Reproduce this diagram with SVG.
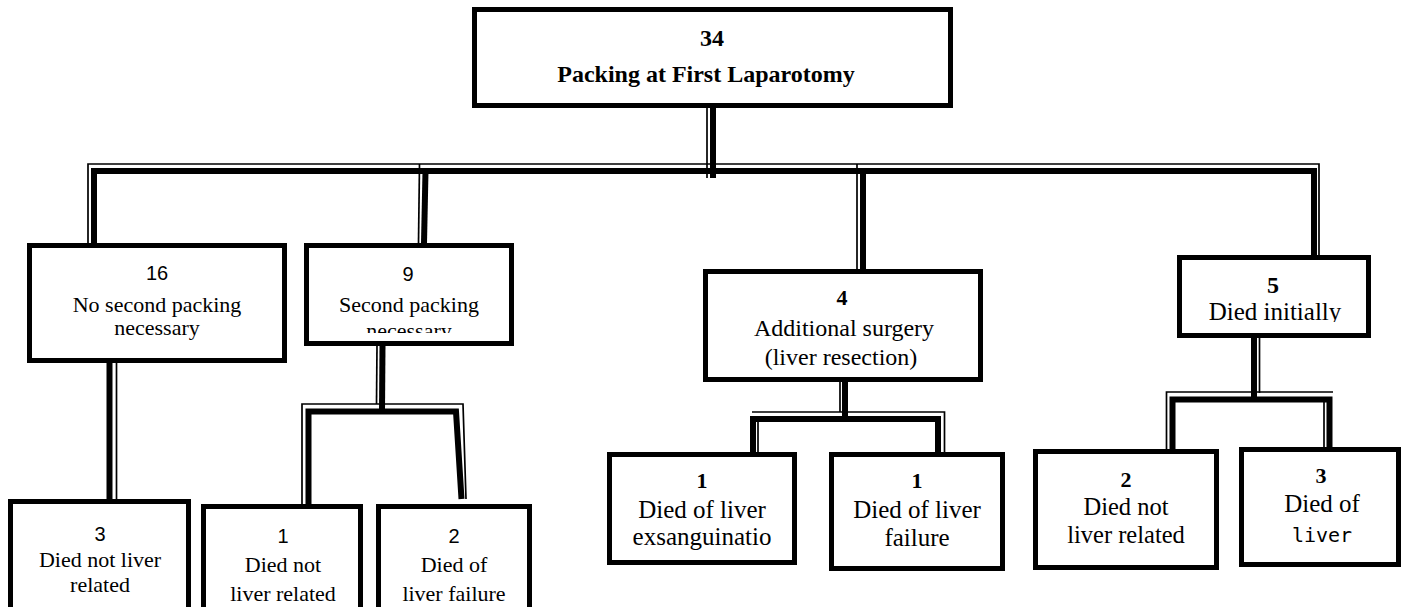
<svg xmlns="http://www.w3.org/2000/svg" width="1403" height="607" viewBox="0 0 1403 607">
<style>
  .box { fill: #fff; stroke: #000; stroke-width: 5; }
  .thin { fill: none; stroke: #000; stroke-width: 1.7; }
  .thick { fill: none; stroke: #000; stroke-width: 6; }
  text { fill: #000; text-anchor: middle; }
  .serif { font-family: 'Liberation Serif', 'Times New Roman', serif; }
  .b { font-weight: bold; }
  .sans { font-family: 'Liberation Sans', Arial, sans-serif; font-size: 20px; }
  .mono { font-family: 'DejaVu Sans Mono', monospace; font-size: 20px; }
</style>
<defs>
  <clipPath id="clip9"><rect x="300" y="240" width="220" height="93"/></clipPath>
  <clipPath id="clip5"><rect x="1170" y="250" width="210" height="72"/></clipPath>
</defs>
<rect width="1403" height="607" fill="#fff"/>

<g id="connectors">
  <line class="thin" x1="707" y1="107" x2="707" y2="178"/>
  <line class="thick" x1="713" y1="107" x2="713" y2="178"/>
  <path class="thin" d="M88,243 V164 H1319 V256"/>
  <path class="thick" d="M94,243 V171 H1314 V256"/>
  <line class="thin" x1="419.5" y1="164" x2="418.5" y2="243"/>
  <line class="thick" x1="425.5" y1="171" x2="424" y2="243"/>
  <line class="thin" x1="857" y1="164" x2="857" y2="269"/>
  <line class="thick" x1="863" y1="171" x2="863" y2="269"/>

  <line class="thick" x1="109.5" y1="363" x2="109.5" y2="499"/>
  <line class="thin" x1="116.5" y1="363" x2="116.5" y2="499"/>

  <line class="thin" x1="377" y1="346" x2="376.5" y2="404"/>
  <line class="thick" x1="382.5" y1="346" x2="382" y2="411"/>
  <path class="thin" d="M302,504 V404 H463 L466,499"/>
  <path class="thick" d="M308.5,504 V411.5 H456 L461.5,499"/>

  <line class="thin" x1="840" y1="382" x2="840" y2="412"/>
  <line class="thick" x1="845" y1="382" x2="845" y2="419"/>
  <path class="thin" d="M752,412 H944.5 V452"/>
  <line class="thin" x1="758" y1="422" x2="758" y2="452"/>
  <path class="thick" d="M753,452 V419 H938 V452"/>

  <line class="thick" x1="1254" y1="338" x2="1254" y2="400"/>
  <line class="thin" x1="1259.5" y1="338" x2="1259.5" y2="393"/>
  <path class="thin" d="M1166.5,449 V392 H1333"/>
  <line class="thin" x1="1324" y1="402" x2="1324" y2="447"/>
  <path class="thick" d="M1172.5,449 V399.5 H1329.5 V447"/>
</g>

<g id="node-34">
  <rect class="box" x="474.5" y="9.5" width="476" height="96"/>
  <text class="serif b" x="712" y="46" font-size="24">34</text>
  <text class="serif b" x="706" y="82" font-size="24">Packing at First Laparotomy</text>
</g>

<g id="node-16">
  <rect class="box" x="29.5" y="245.5" width="255" height="115"/>
  <text class="sans" x="157" y="280">16</text>
  <text class="serif" x="157" y="312" font-size="22">No second packing</text>
  <text class="serif" x="157" y="335" font-size="22">necessary</text>
</g>

<g id="node-9">
  <rect class="box" x="306.5" y="245.5" width="205" height="98"/>
  <text class="sans" x="408" y="281">9</text>
  <text class="serif" x="409" y="312" font-size="22">Second packing</text>
  <text class="serif" x="409" y="338" font-size="22" clip-path="url(#clip9)">necessary</text>
</g>

<g id="node-4">
  <rect class="box" x="705.5" y="271.5" width="275" height="108"/>
  <text class="serif b" x="842" y="305" font-size="22">4</text>
  <text class="serif" x="844" y="336" font-size="24">Additional surgery</text>
  <text class="serif" x="841" y="365" font-size="24">(liver resection)</text>
</g>

<g id="node-5">
  <rect class="box" x="1179.5" y="257.5" width="189" height="78"/>
  <text class="serif b" x="1273" y="293" font-size="24">5</text>
  <text class="serif" x="1275" y="320" font-size="25" clip-path="url(#clip5)">Died initially</text>
</g>

<g id="node-3-not-liver">
  <rect class="box" x="10.5" y="501.5" width="178" height="120"/>
  <text class="sans" x="100" y="541">3</text>
  <text class="serif" x="100" y="567" font-size="22">Died not liver</text>
  <text class="serif" x="100" y="592" font-size="22">related</text>
</g>

<g id="node-1-not-liver">
  <rect class="box" x="203.5" y="506.5" width="157" height="120"/>
  <text class="sans" x="283" y="543">1</text>
  <text class="serif" x="283" y="572" font-size="22">Died not</text>
  <text class="serif" x="283" y="601" font-size="22">liver related</text>
</g>

<g id="node-2-liver-failure">
  <rect class="box" x="378.5" y="506.5" width="151" height="120"/>
  <text class="sans" x="454" y="543">2</text>
  <text class="serif" x="454" y="572" font-size="22">Died of</text>
  <text class="serif" x="454" y="601" font-size="22">liver failure</text>
</g>

<g id="node-1-exsanguination">
  <rect class="box" x="609.5" y="454.5" width="185" height="108"/>
  <text class="serif b" x="702" y="488" font-size="22">1</text>
  <text class="serif" x="702" y="518" font-size="25">Died of liver</text>
  <text class="serif" x="702" y="545" font-size="25">exsanguinatio</text>
</g>

<g id="node-1-liver-failure">
  <rect class="box" x="831.5" y="454.5" width="171" height="114"/>
  <text class="serif b" x="917" y="488" font-size="22">1</text>
  <text class="serif" x="917" y="518" font-size="25">Died of liver</text>
  <text class="serif" x="917" y="546" font-size="25">failure</text>
</g>

<g id="node-2-not-liver">
  <rect class="box" x="1035.5" y="451.5" width="181" height="116"/>
  <text class="serif b" x="1126" y="487" font-size="22">2</text>
  <text class="serif" x="1126" y="515" font-size="24.5">Died not</text>
  <text class="serif" x="1126" y="543" font-size="24.5">liver related</text>
</g>

<g id="node-3-liver">
  <rect class="box" x="1241.5" y="449.5" width="157" height="115"/>
  <text class="serif b" x="1321" y="483" font-size="22">3</text>
  <text class="serif" x="1322" y="512" font-size="25">Died of</text>
  <text class="mono" x="1322" y="542">liver</text>
</g>
</svg>
